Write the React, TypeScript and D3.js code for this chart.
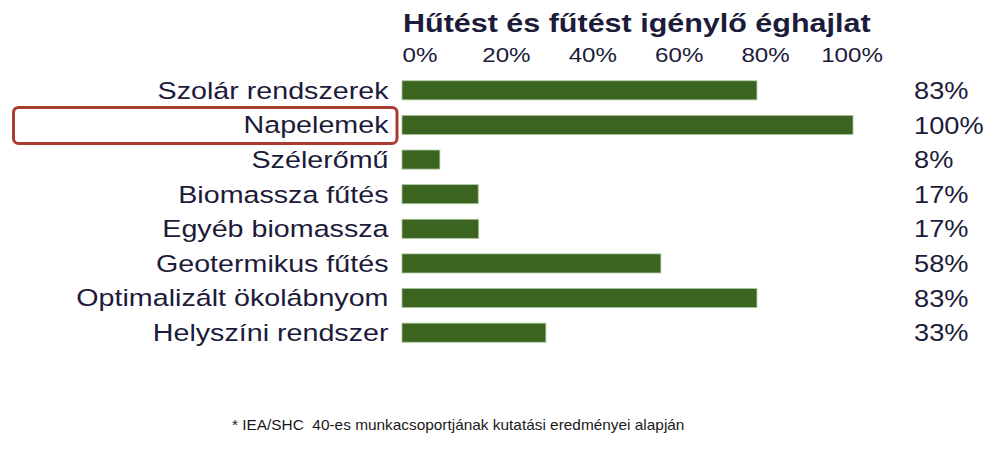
import React from "react";
import * as d3 from "d3";

const categories = [
  "Szolár rendszerek",
  "Napelemek",
  "Szélerőmű",
  "Biomassza fűtés",
  "Egyéb biomassza",
  "Geotermikus fűtés",
  "Optimalizált ökolábnyom",
  "Helyszíni rendszer",
];
const barValues = [78.7, 100, 8.4, 16.9, 17.0, 57.4, 78.7, 31.9];
const valueLabels = ["83%", "100%", "8%", "17%", "17%", "58%", "83%", "33%"];
const tickValues = [0, 20, 40, 60, 80, 100];
const highlighted = "Napelemek";
const title = "Hűtést és fűtést igénylő éghajlat";
const footnote = "* IEA/SHC  40-es munkacsoportjának kutatási eredményei alapján";

const W = 993;
const H = 451;
const FONT = "'Liberation Sans', Arial, sans-serif";
const NAVY = "#1c1c3a";
const SX = 1.22;

export default function App() {
  const x = d3.scaleLinear().domain([0, 100]).range([402, 853]);
  const xTick = d3.scaleLinear().domain([0, 100]).range([420, 852]);
  const y = d3
    .scaleBand<string>()
    .domain(categories)
    .range([73, 350])
    .paddingInner(0.45)
    .paddingOuter(0.225);
  const bw = y.bandwidth();
  const hy = (y(highlighted) ?? 0) + bw / 2;

  return (
    <svg
      width={W}
      height={H}
      style={{ position: "absolute", left: 0, top: 0, background: "#fff" }}
      fontFamily={FONT}
    >
      <rect x={0} y={0} width={W} height={H} fill="#fff" />
      <g transform={`translate(403,31.8) scale(${SX},1)`}>
        <text x={0} y={0} fontSize={25} fontWeight="bold" fill={NAVY}>
          {title}
        </text>
      </g>
      {tickValues.map((t) => (
        <g key={t} transform={`translate(${xTick(t)},62.3) scale(1.15,1)`}>
          <text x={0} y={0} fontSize={21} textAnchor="middle" fill={NAVY}>
            {t}%
          </text>
        </g>
      ))}
      <rect
        x={13.5}
        y={hy - 17.5}
        width={383.5}
        height={36}
        rx={5}
        fill="none"
        stroke="#a83c31"
        strokeWidth={3}
      />
      {categories.map((c, i) => {
        const cy = (y(c) ?? 0) + bw / 2;
        return (
          <g key={c}>
            <rect
              x={x(0)}
              y={y(c)}
              width={x(barValues[i]) - x(0)}
              height={bw}
              fill="#3b6421"
              stroke="#a9c29a"
              strokeWidth={0.8}
            />
            <g transform={`translate(388.5,${cy + 8.4}) scale(${SX},1)`}>
              <text x={0} y={0} fontSize={23.5} textAnchor="end" fill={NAVY}>
                {c}
              </text>
            </g>
            <g transform={`translate(914,${cy + 8.6}) scale(1.12,1)`}>
              <text x={0} y={0} fontSize={24.3} fill={NAVY}>
                {valueLabels[i]}
              </text>
            </g>
          </g>
        );
      })}
      <g transform={`translate(232,430) scale(1.1,1)`}>
        <text
          x={0}
          y={0}
          fontSize={14}
          fill="#1a1a1a"
          style={{ whiteSpace: "pre" }}
        >
          {footnote}
        </text>
      </g>
    </svg>
  );
}
